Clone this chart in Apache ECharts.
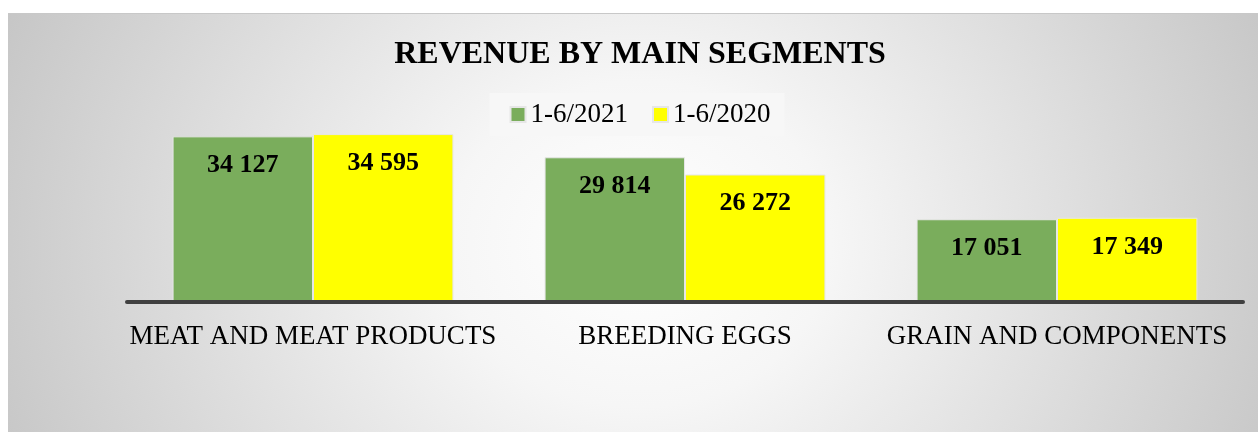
<!DOCTYPE html>
<html>
<head>
    <meta charset="utf-8">
    <title>Revenue by main segments</title>
    <script src="https://cdn.jsdelivr.net/npm/echarts@6/dist/echarts.min.js"></script>
    <style>
        html, body {
            width: 100%;
            height: 100%;
            margin: 0;
            padding: 0;
            overflow: hidden;
            background: #ffffff;
        }
        #main {
            position: absolute;
            left: 8px;
            top: 13px;
            width: 1264px;
            height: 419px;
            border-top: 1px solid #c8c8c8;
            box-sizing: border-box;
            background: radial-gradient(ellipse 58% 150% at 50% 55%, #ffffff 0%, #f6f6f6 26%, #c2c2c2 100%);
        }
    </style>
</head>
<body>
    <div id="main"></div>
    <script>
        const segments = ['MEAT AND MEAT PRODUCTS', 'BREEDING EGGS', 'GRAIN AND COMPONENTS'];
        const h1_2021 = [34127, 29814, 17051];
        const h1_2020 = [34595, 26272, 17349];

        const serif = "'Liberation Serif', 'Times New Roman', serif";
        const fmt = v => String(v).replace(/\B(?=(\d{3})+(?!\d))/g, ' ');

        const barLabel = {
            show: true,
            position: 'insideTop',
            distance: 16,
            color: '#000',
            fontFamily: serif,
            fontWeight: 'bold',
            fontSize: 26,
            formatter: p => fmt(p.value)
        };

        const chart = echarts.init(document.getElementById('main'));
        chart.setOption({
            backgroundColor: 'transparent',
            animation: false,
            title: {
                text: 'REVENUE BY MAIN SEGMENTS',
                left: 'center',
                top: 20,
                textStyle: { fontFamily: serif, fontWeight: 'bold', fontSize: 32, color: '#000' }
            },
            legend: {
                data: ['1-6/2021', '1-6/2020'],
                left: 'center',
                top: 79,
                backgroundColor: '#f7f7f7',
                padding: [8, 14, 8, 20],
                icon: 'rect',
                itemWidth: 15,
                itemHeight: 15,
                itemGap: 24,
                textStyle: { fontFamily: serif, fontSize: 27, color: '#000', padding: [0, 0, 0, 0] }
            },
            grid: { left: 119, right: 29, top: 89, bottom: 130 },
            xAxis: {
                type: 'category',
                data: segments,
                z: 5,
                axisLine: { lineStyle: { color: '#404040', width: 4 } },
                axisTick: { show: false },
                axisLabel: { fontFamily: serif, fontSize: 27, color: '#000', margin: 21, interval: 0 }
            },
            yAxis: {
                type: 'value',
                min: 0,
                max: 41000,
                show: false,
                splitLine: { show: false }
            },
            series: [
                {
                    name: '1-6/2021',
                    type: 'bar',
                    data: h1_2021,
                    barGap: '0%',
                    barCategoryGap: '24.5%',
                    itemStyle: { color: '#7aad5c', borderColor: '#e6e6e6', borderWidth: 1 },
                    label: barLabel
                },
                {
                    name: '1-6/2020',
                    type: 'bar',
                    data: h1_2020,
                    itemStyle: { color: '#ffff00', borderColor: '#e6e6e6', borderWidth: 1 },
                    label: barLabel
                }
            ]
        });
        window.addEventListener('resize', () => chart.resize());
    </script>
</body>
</html>
